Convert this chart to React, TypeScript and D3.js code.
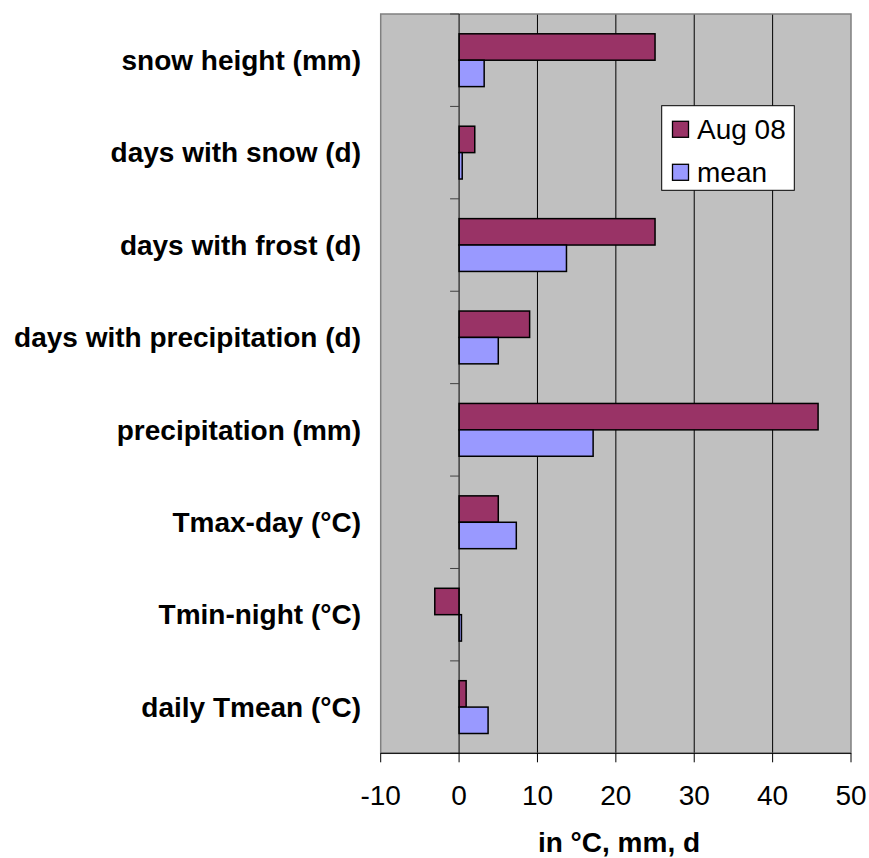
import React from "react";
import * as d3 from "d3";

const categories = [
  "snow height (mm)",
  "days with snow (d)",
  "days with frost (d)",
  "days with precipitation (d)",
  "precipitation (mm)",
  "Tmax-day (°C)",
  "Tmin-night (°C)",
  "daily Tmean (°C)",
];
const aug08 = [25, 2, 25, 9, 45.8, 5, -3.1, 0.9];
const meanVals = [3.2, 0.4, 13.7, 5, 17.1, 7.3, 0.3, 3.7];
const xTicks = [-10, 0, 10, 20, 30, 40, 50];
const seriesNames = ["Aug 08", "mean"];
const seriesColors = ["#993366", "#9999FF"];

export default function App() {
  const W = 869, H = 858;
  const left = 380.7, right = 851, top = 14, bottom = 753.3;
  const x = d3.scaleLinear().domain([-10, 50]).range([left, right]);
  const y = d3.scaleBand<string>().domain(categories).range([top, bottom]);
  const bw = y.bandwidth() / 3.5;
  const font = "Arial, 'Liberation Sans', sans-serif";
  const fs = 28;
  const series = [aug08, meanVals];

  return (
    <svg width={W} height={H} style={{ position: "absolute", left: 0, top: 0 }} fontFamily={font}>
      <rect x={0} y={0} width={W} height={H} fill="#fff" />
      <rect x={left} y={top} width={right - left} height={bottom - top} fill="#C0C0C0" />
      {xTicks.filter((t) => t !== -10 && t !== 0 && t !== 50).map((t) => (
        <line key={t} x1={x(t)} x2={x(t)} y1={top} y2={bottom} stroke="#000" strokeWidth={1} />
      ))}
      <rect x={left} y={top} width={right - left} height={bottom - top} fill="none" stroke="#808080" strokeWidth={1.5} />
      {categories.map((c, i) =>
        series.map((s, k) => {
          const v = s[i];
          const y0 = (y(c) as number) + 0.75 * bw + k * bw;
          const x0 = Math.min(x(0), x(v));
          const w = Math.abs(x(v) - x(0));
          return (
            <rect key={c + k} x={x0} y={y0} width={w} height={bw} fill={seriesColors[k]} stroke="#000" strokeWidth={1.5} />
          );
        })
      )}
      <line x1={x(0)} x2={x(0)} y1={top} y2={bottom} stroke="#000" strokeWidth={1} />
      {d3.range(categories.length + 1).map((i) => {
        const yy = top + i * y.step();
        return <line key={i} x1={x(0) - 9} x2={x(0)} y1={yy} y2={yy} stroke="#404040" strokeWidth={1} />;
      })}
      {categories.map((c) => (
        <text key={c} x={361} y={(y(c) as number) + y.bandwidth() / 2} dy="0.35em" textAnchor="end" fontSize={fs} fontWeight="bold" fill="#000">
          {c}
        </text>
      ))}
      <line x1={left} x2={right} y1={bottom} y2={bottom} stroke="#000" strokeWidth={1} />
      {xTicks.map((t) => (
        <g key={t}>
          <line x1={x(t)} x2={x(t)} y1={bottom} y2={bottom + 9} stroke="#000" strokeWidth={1} />
          <text x={x(t)} y={805} textAnchor="middle" fontSize={fs} fill="#000">{t}</text>
        </g>
      ))}
      <text x={619} y={852} textAnchor="middle" fontSize={fs} fontWeight="bold" fill="#000">in °C, mm, d</text>
      <rect x={661.7} y={105.7} width={132.6} height={84.6} fill="#fff" stroke="#000" strokeWidth={1} />
      {seriesNames.map((n, k) => (
        <g key={n}>
          <rect x={672.5} y={121.3 + k * 43} width={16} height={16} fill={seriesColors[k]} stroke="#000" strokeWidth={1.3} />
          <text x={697} y={129.3 + k * 43} dy="0.35em" fontSize={fs} fill="#000">{n}</text>
        </g>
      ))}
    </svg>
  );
}
